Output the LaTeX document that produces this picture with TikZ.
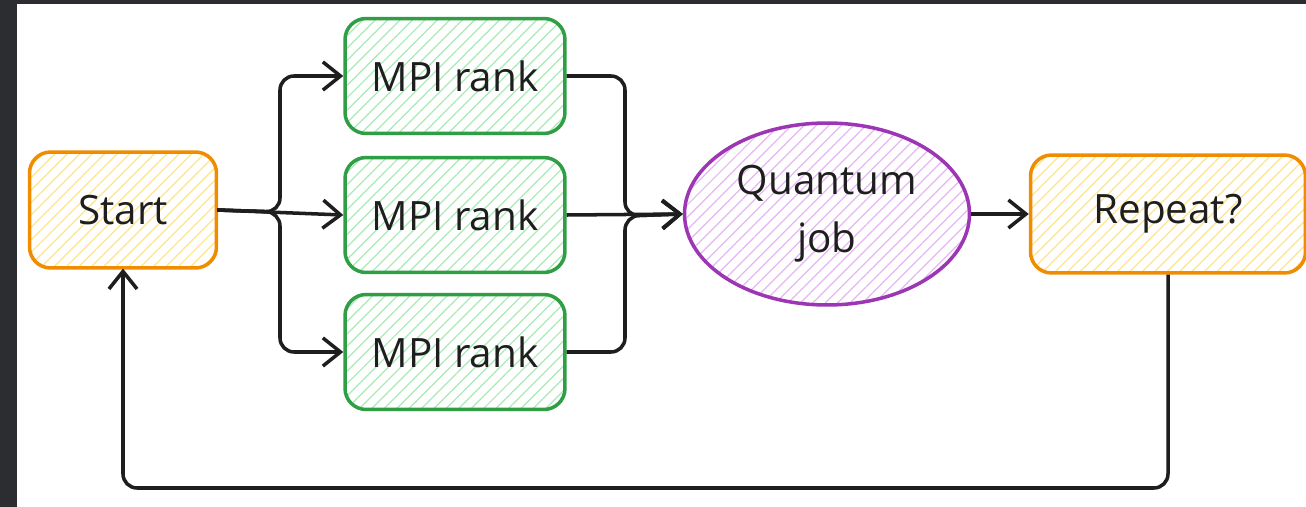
\documentclass[tikz,border=0pt]{standalone}
\usepackage{fontspec}
\setmainfont{Open Sans}
\usetikzlibrary{arrows.meta, patterns.meta, shapes.geometric}

\definecolor{frame}{HTML}{2B2D31}
\definecolor{ink}{HTML}{1E1E1E}
\definecolor{orangeline}{HTML}{F08C00}
\definecolor{orangefill}{HTML}{FFE58A}
\definecolor{greenline}{HTML}{2F9E44}
\definecolor{greenfill}{HTML}{A8EBB4}
\definecolor{purpleline}{HTML}{9C36B5}
\definecolor{purplefill}{HTML}{E7B6F5}

\tikzset{
	hatch/.style = {pattern = {Lines[angle = 45, distance = 5pt, line width = 0.7pt]}},
	box/.style = {draw, line width = 2pt, rounded corners = 12pt, hatch,
		text = ink, font = \fontsize{23}{28}\selectfont},
	startbox/.style = {box, draw = orangeline, pattern color = orangefill},
	rankbox/.style = {box, draw = greenline, pattern color = greenfill,
		minimum width = 4.4cm, minimum height = 2.3cm},
	jobbox/.style = {box, ellipse, draw = purpleline, pattern color = purplefill,
		minimum width = 5.7cm, minimum height = 3.64cm, align = center,
		font = \fontsize{23}{33}\selectfont},
	link/.style = {draw = ink, line width = 2pt, rounded corners = 8pt,
		-{Straight Barb[length = 10pt, width = 16pt, line width = 2pt]}}
}

\begin{document}
\begin{tikzpicture}[x = 0.02cm, y = -0.02cm]
		\useasboundingbox (0, 0) rectangle (1306, 507);
		\fill[frame] (0, 0) rectangle (1306, 507);
		\fill[white] (17, 4) rectangle (1306, 507);
		\node[startbox, minimum width = 3.74cm, minimum height = 2.32cm] (start) at (123, 210) {Start};
		\node[rankbox] (rank1) at (455, 76) {MPI rank};
		\node[rankbox] (rank2) at (455, 215) {MPI rank};
		\node[rankbox] (rank3) at (455, 352) {MPI rank};
		\node[jobbox] (job) at (827, 214) {Quantum\\job};
		\node[startbox, minimum width = 5.5cm, minimum height = 2.36cm] (repeat) at (1168, 214) {Repeat?};
		\coordinate (split) at (280, 212);
		\coordinate (merge) at (625, 216);
		\draw[link] (start.east) -- (split) |- (rank1.west);
		\draw[link] (start.east) -- (rank2.west);
		\draw[link] (start.east) -- (split) |- (rank3.west);
		\draw[link] (rank1.east) -| (merge) -- (job.west);
		\draw[link] (rank2.east) -- (job.west);
		\draw[link] (rank3.east) -| (merge) -- (job.west);
		\draw[link] (job.east) -- (repeat.west);
		\draw[link] (repeat.south) -- (repeat.south |- 0, 488) -| (start.south);
	\end{tikzpicture}
\end{document}
